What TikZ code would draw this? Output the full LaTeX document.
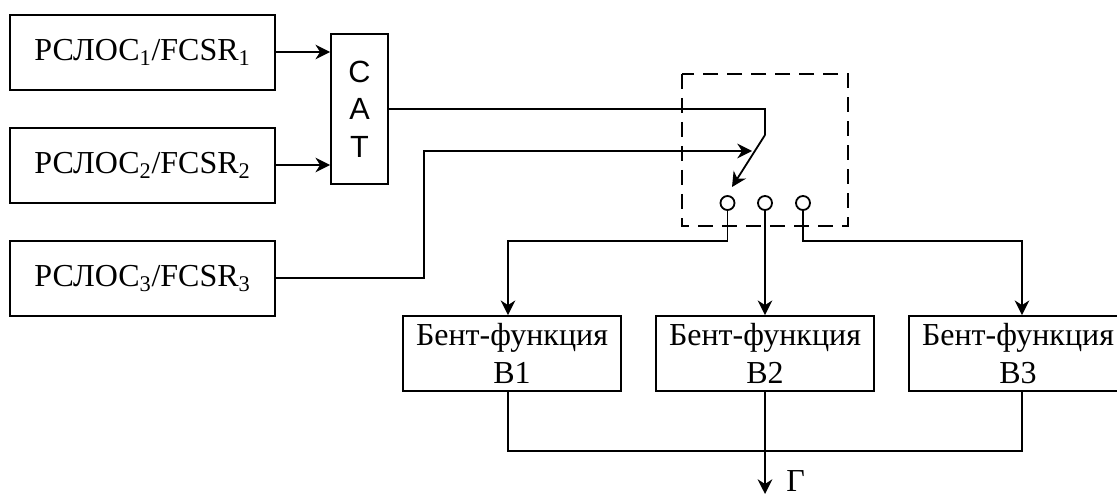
\documentclass[tikz,border=0pt]{standalone}
\usepackage{fontspec}
\setmainfont{Liberation Serif}
\newfontfamily\catfont{Liberation Sans}
\usetikzlibrary{positioning,arrows.meta,calc}
\tikzset{
    base/.style={font=\fontsize{24pt}{28.5pt}\selectfont, align=center},
    block/.style={base, rectangle, draw=black, line width=1.35pt, fill=white,
                  minimum width=198.75pt, minimum height=56.25pt, inner sep=0pt},
    bent/.style={base, rectangle, draw=black, line width=1.35pt, fill=white,
                 minimum width=164pt, minimum height=56.25pt, inner sep=0pt},
    cat/.style={rectangle, draw=black, line width=1.35pt, fill=white, align=center,
                font=\fontsize{23pt}{28pt}\selectfont\catfont,
                minimum width=42.75pt, minimum height=112.5pt, inner sep=0pt},
    pin/.style={circle, draw=black, line width=1.35pt, fill=white,
                minimum size=10.5pt, inner sep=0pt},
    flow/.style={-{Stealth[length=11pt,width=11pt,inset=3.5pt]}, line width=1.35pt},
    wire/.style={line width=1.35pt},
    frame/.style={line width=1.35pt, dash pattern=on 11pt off 7pt}
}
\begin{document}
\begin{tikzpicture}[x=0.75pt,y=-0.75pt]
  \useasboundingbox (0,0) rectangle (1117,499);

  % Switch frame
  \coordinate (frameNW) at (682,74);
  \coordinate (frameSE) at (848,226);
  \draw[frame] (frameNW) rectangle (frameSE);

  % Generators
  \node[block] (gen1) at (142.5,52.5) {РСЛОС\textsubscript{1}/FCSR\textsubscript{1}};
  \node[block, below=27.15pt of gen1] (gen2) {РСЛОС\textsubscript{2}/FCSR\textsubscript{2}};
  \node[block, below=27.15pt of gen2] (gen3) {РСЛОС\textsubscript{3}/FCSR\textsubscript{3}};
  \node[cat] (cat) at (359.5,109) {С\\А\\Т};

  % Switch contacts
  \node[pin] (pin1) at (727.5,203) {};
  \node[pin] (pin2) at (765,203) {};
  \node[pin] (pin3) at (803,203) {};
  \coordinate (hinge) at (765,135);
  \coordinate (tip) at (732,187);
  \coordinate (entry) at (752,151);
  \coordinate (bend) at (424,151);

  % Bent functions
  \node[bent] (bent1) at (512,353.5) {Бент-функция\\В1};
  \node[bent] (bent2) at (765,353.5) {Бент-функция\\В2};
  \node[bent] (bent3) at (1018,353.5) {Бент-функция\\В3};
  \node[base, anchor=base west, inner sep=0pt] (out) at (786,491.5) {Г};
  \coordinate (outtip) at (765,494);
  \coordinate (left) at (508,241);
  \coordinate (right) at (1022,241);
  \coordinate (bus) at (765,451);

  % Arrows
  \draw[flow] (gen1.east |- 0,52) -- (cat.west |- 0,52);
  \draw[flow] (gen2.east |- 0,165) -- (cat.west |- 0,165);
  \draw[wire] (cat.east) -- (hinge |- cat.east) -- (hinge);
  \draw[flow] (hinge) -- (tip);
  \draw[flow] (gen3.east |- 0,278) -| (bend) -- (entry);

  % Contact outputs
  \draw[flow] (pin1.south) |- (left) -- (left |- bent1.north);
  \draw[flow] (pin2.south) -- (bent2.north);
  \draw[flow] (pin3.south) |- (right) -- (right |- bent3.north);

  % Output bus
  \draw[wire] (left |- bent1.south) |- (bus) -| (right |- bent3.south);
  \draw[flow] (bent2.south) -- (outtip);
\end{tikzpicture}
\end{document}
